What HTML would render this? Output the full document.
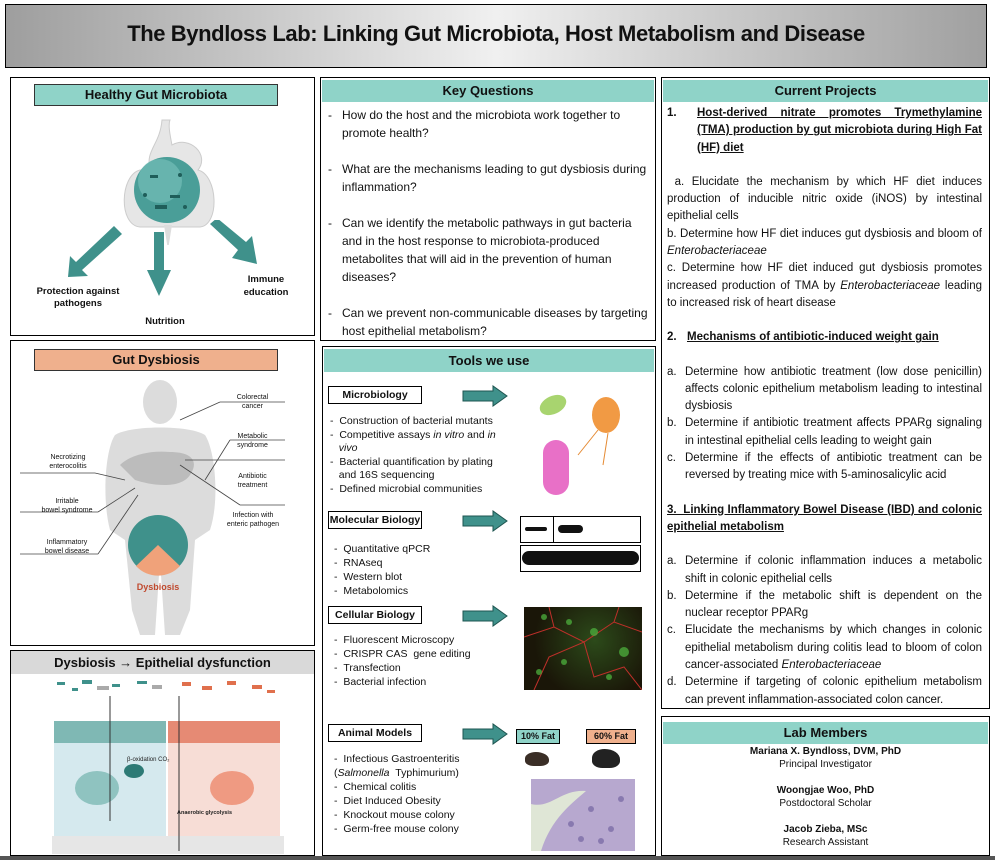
<!DOCTYPE html>
<html><head><meta charset="utf-8">
<style>
*{margin:0;padding:0;box-sizing:border-box}
body{width:995px;height:860px;background:#fff;position:relative;overflow:hidden;font-family:"Liberation Sans",sans-serif;color:#111}
.a{position:absolute}
.box{position:absolute;border:1.5px solid #000;background:#fff}
.hd{position:absolute;background:#8fd3c8;font-weight:bold;text-align:center;font-size:13px}
.lab{position:absolute;border:1.3px solid #000;background:#fff;font-weight:bold;font-size:10.5px;text-align:center;white-space:nowrap}
.t{font-size:10.5px;line-height:13.5px}
.arr{position:absolute;width:46px;height:22px}
.q{font-size:12px;line-height:18px}
.j{text-align:justify}
.sm{font-size:7px;position:absolute;text-align:center;line-height:9px}
</style></head><body>

<div class="a" style="left:5px;top:4px;width:982px;height:64px;border:1.5px solid #000;background:linear-gradient(to right,#9e9e9e 0%,#cfcfcf 30%,#f0f0f0 50%,#cfcfcf 70%,#a0a0a0 100%)"></div>
<div class="a" style="left:5px;top:21px;width:982px;text-align:center;font-size:22px;font-weight:bold;letter-spacing:-0.4px">The Byndloss Lab: Linking Gut Microbiota, Host Metabolism and Disease</div>

<!-- Panel 1 -->
<div class="box" style="left:10px;top:77px;width:305px;height:259px"></div>
<div class="hd" style="left:34px;top:84px;width:244px;height:22px;line-height:20px;border:1px solid #333">Healthy Gut Microbiota</div>
<svg class="a" style="left:100px;top:115px" width="130" height="130">
<path d="M62 5 C60 30 45 35 50 55 L40 55 C20 60 18 110 40 112 L100 112 C120 110 118 60 98 55 C110 40 90 20 72 30 C70 20 68 10 70 5Z" fill="#e6e6e6" stroke="#ccc"/>
<path d="M64 110 L68 135 L72 110Z" fill="#ddd"/>
<circle cx="67" cy="75" r="33" fill="#4a9e98"/>
<circle cx="60" cy="66" r="22" fill="#7cc3bd" opacity=".6"/>
<g fill="#1f5e5a"><rect x="50" y="60" width="8" height="3"/><rect x="70" y="80" width="10" height="3"/><rect x="55" y="90" width="12" height="4"/><circle cx="80" cy="60" r="2"/><circle cx="45" cy="80" r="2"/><circle cx="85" cy="92" r="2"/></g>
</svg>
<svg class="a" style="left:60px;top:220px" width="220" height="85">
<g fill="#3f918b">
<polygon points="54,6 62,14 22,50 28,56 8,57 10,36 16,42"/>
<polygon points="94,12 104,12 104,50 111,50 99,76 87,50 94,50"/>
<polygon points="150,4 157,-2 186,22 192,16 197,44 172,38 178,30"/>
</g></svg>
<div class="a" style="left:18px;top:286px;width:120px;text-align:center;font-size:9.5px;font-weight:bold;line-height:12px">Protection against<br>pathogens</div>
<div class="a" style="left:130px;top:316px;width:70px;text-align:center;font-size:9.5px;font-weight:bold">Nutrition</div>
<div class="a" style="left:236px;top:273px;width:60px;text-align:center;font-size:9.5px;font-weight:bold;line-height:13px">Immune<br>education</div>

<!-- Panel 2 -->
<div class="box" style="left:10px;top:340px;width:305px;height:306px"></div>
<div class="hd" style="left:34px;top:349px;width:244px;height:22px;line-height:20px;border:1px solid #333;background:#efb08d">Gut Dysbiosis</div>
<svg class="a" style="left:20px;top:380px" width="290" height="262">
<g fill="#dcdcdc">
<ellipse cx="140" cy="22" rx="17" ry="22"/>
<path d="M95 55 C110 45 170 45 185 55 C195 70 200 120 190 150 L175 160 L170 230 L160 255 L145 255 L140 180 L135 255 L120 255 L112 230 L105 160 L90 150 C82 120 85 70 95 55Z"/>
</g>
<path d="M100 85 C110 75 130 70 150 72 C170 72 180 80 170 95 C160 110 130 105 115 100Z" fill="#bcbcbc"/>
<circle cx="138" cy="165" r="30" fill="#3f918b"/>
<path d="M138 165 L116 186 A30 30 0 0 0 160 186Z" fill="#f0a27a"/>
<g stroke="#444" stroke-width=".8" fill="none">
<line x1="160" y1="40" x2="200" y2="22"/><line x1="200" y1="22" x2="265" y2="22"/>
<line x1="185" y1="100" x2="210" y2="60"/><line x1="210" y1="60" x2="265" y2="60"/>
<line x1="165" y1="80" x2="265" y2="80"/>
<line x1="160" y1="85" x2="220" y2="125"/><line x1="220" y1="125" x2="265" y2="125"/>
<line x1="0" y1="93" x2="75" y2="93"/><line x1="75" y1="93" x2="105" y2="100"/>
<line x1="0" y1="132" x2="78" y2="132"/><line x1="78" y1="132" x2="115" y2="108"/>
<line x1="0" y1="174" x2="78" y2="174"/><line x1="78" y1="174" x2="118" y2="115"/>
</g>
<text x="138" y="210" text-anchor="middle" font-size="9" font-weight="bold" fill="#c0492e" font-family="Liberation Sans">Dysbiosis</text>
</svg>
<div class="sm" style="left:225px;top:393px;width:55px">Colorectal<br>cancer</div>
<div class="sm" style="left:225px;top:432px;width:55px">Metabolic<br>syndrome</div>
<div class="sm" style="left:225px;top:472px;width:55px">Antibiotic<br>treatment</div>
<div class="sm" style="left:222px;top:511px;width:62px">Infection with<br>enteric pathogen</div>
<div class="sm" style="left:38px;top:453px;width:60px">Necrotizing<br>enterocolitis</div>
<div class="sm" style="left:36px;top:497px;width:62px">Irritable<br>bowel syndrome</div>
<div class="sm" style="left:36px;top:538px;width:62px">Inflammatory<br>bowel disease</div>

<!-- Panel 3 -->
<div class="box" style="left:10px;top:650px;width:305px;height:206px"></div>
<div class="a" style="left:11px;top:651px;width:303px;height:23px;background:#d9d9d9;font-weight:bold;font-size:13px;text-align:center;line-height:23px">Dysbiosis → Epithelial dysfunction</div>
<svg class="a" style="left:52px;top:676px" width="232" height="178">
<g fill="#3f918b"><rect x="5" y="6" width="8" height="3"/><rect x="30" y="4" width="10" height="4"/><rect x="60" y="8" width="8" height="3"/><rect x="85" y="5" width="10" height="3"/><rect x="20" y="12" width="6" height="3"/></g>
<g fill="#aaa"><rect x="45" y="10" width="12" height="4"/><rect x="100" y="9" width="10" height="4"/></g>
<g fill="#e0704d"><rect x="130" y="6" width="9" height="4"/><rect x="150" y="10" width="10" height="4"/><rect x="175" y="5" width="9" height="4"/><rect x="200" y="9" width="10" height="4"/><rect x="215" y="14" width="8" height="3"/></g>
<rect x="2" y="45" width="112" height="118" fill="#d5e9ee"/>
<rect x="116" y="45" width="112" height="118" fill="#f7ddd6"/>
<rect x="2" y="45" width="112" height="22" fill="#7fb8b4"/>
<rect x="116" y="45" width="112" height="22" fill="#e68a74"/>
<ellipse cx="45" cy="112" rx="22" ry="17" fill="#8fc3c0"/>
<ellipse cx="180" cy="112" rx="22" ry="17" fill="#ef9a82"/>
<ellipse cx="82" cy="95" rx="10" ry="7" fill="#2d7a75"/>
<rect x="0" y="160" width="232" height="18" fill="#e6e6e6"/>
<line x1="58" y1="20" x2="58" y2="145" stroke="#333"/>
<line x1="127" y1="20" x2="127" y2="175" stroke="#333"/>
<text x="75" y="85" font-size="6" font-family="Liberation Sans" fill="#222">β-oxidation CO₂</text>
<text x="125" y="138" font-size="5.5" font-weight="bold" font-family="Liberation Sans" fill="#222">Anaerobic glycolysis</text>
</svg>

<!-- Key Questions -->
<div class="box" style="left:320px;top:77px;width:336px;height:264px"></div>
<div class="hd" style="left:322px;top:80px;width:332px;height:22px;line-height:22px">Key Questions</div>
<div class="a q" style="left:328px;top:106px;width:322px">
<div style="display:flex"><span style="width:14px">-</span><span style="flex:1">How do the host and the microbiota work together to promote health?</span></div>
<div style="display:flex;margin-top:18px"><span style="width:14px">-</span><span style="flex:1">What are the mechanisms leading to gut dysbiosis during inflammation?</span></div>
<div style="display:flex;margin-top:18px"><span style="width:14px">-</span><span style="flex:1">Can we identify the metabolic pathways in gut bacteria and in the host response to microbiota-produced metabolites that will aid in the prevention of human diseases?</span></div>
<div style="display:flex;margin-top:18px"><span style="width:14px">-</span><span style="flex:1">Can we prevent non-communicable diseases by targeting host epithelial metabolism?</span></div>
</div>

<!-- Tools -->
<div class="box" style="left:322px;top:346px;width:334px;height:510px"></div>
<div class="hd" style="left:324px;top:349px;width:330px;height:23px;line-height:23px">Tools we use</div>
<svg width="0" height="0" style="position:absolute"><defs><symbol id="ar" viewBox="0 0 46 22"><polygon points="1,6 31,6 31,1 45,11 31,21 31,16 1,16" fill="#3f918b" stroke="#1e5550" stroke-width="1"/></symbol></defs></svg>
<div class="lab" style="left:328px;top:386px;width:94px;height:18px;line-height:16px">Microbiology</div>
<svg class="arr" style="left:462px;top:385px"><use href="#ar"/></svg>
<div class="a t" style="left:330px;top:415px;width:180px">
- &nbsp;Construction of bacterial mutants<br>- &nbsp;Competitive assays <i>in vitro</i> and <i>in</i><br>&nbsp;&nbsp;&nbsp;<i>vivo</i><br>- &nbsp;Bacterial quantification by plating<br>&nbsp;&nbsp;&nbsp;and 16S sequencing<br>- &nbsp;Defined microbial communities</div>
<svg class="a" style="left:528px;top:385px" width="110" height="115">
<ellipse cx="25" cy="20" rx="14" ry="9" fill="#a8d46f" transform="rotate(-25 25 20)"/>
<ellipse cx="78" cy="30" rx="14" ry="18" fill="#f19a44"/>
<rect x="15" y="55" width="26" height="55" rx="13" fill="#e870c7"/>
<g stroke="#e58a33" fill="none"><path d="M70 45 L50 70"/><path d="M80 48 L75 80"/></g>
</svg>
<div class="lab" style="left:328px;top:511px;width:94px;height:18px;line-height:16px">Molecular Biology</div>
<svg class="arr" style="left:462px;top:510px"><use href="#ar"/></svg>
<div class="a" style="left:520px;top:516px;width:121px;height:27px;border:1px solid #000"><div class="a" style="left:32px;top:0;width:1px;height:25px;background:#000"></div><div class="a" style="left:4px;top:10px;width:22px;height:4px;background:#111;border-radius:3px"></div><div class="a" style="left:37px;top:8px;width:25px;height:8px;background:#111;border-radius:4px"></div></div>
<div class="a" style="left:520px;top:545px;width:121px;height:27px;border:1px solid #000"><div class="a" style="left:1px;top:5px;width:117px;height:14px;background:#111;border-radius:7px"></div></div>
<div class="a t" style="left:334px;top:542px;width:180px;line-height:14px">- &nbsp;Quantitative qPCR<br>- &nbsp;RNAseq<br>- &nbsp;Western blot<br>- &nbsp;Metabolomics</div>
<div class="lab" style="left:328px;top:606px;width:94px;height:18px;line-height:16px">Cellular Biology</div>
<svg class="arr" style="left:462px;top:605px"><use href="#ar"/></svg>
<div class="a" style="left:524px;top:607px;width:118px;height:83px;background:radial-gradient(circle at 60% 40%,#2c4a1a,#1a1608 70%)"></div>
<svg class="a" style="left:524px;top:607px" width="118" height="83"><g stroke="#c0302a" fill="none" stroke-width="1"><path d="M0 30 L30 20 L60 35 L90 15 L118 25"/><path d="M10 83 L25 50 L60 35 L70 70 L100 60 L118 83"/><path d="M30 20 L25 0"/><path d="M90 15 L95 0"/></g><g fill="#4aa83a" opacity=".8"><circle cx="20" cy="10" r="3"/><circle cx="45" cy="15" r="3"/><circle cx="70" cy="25" r="4"/><circle cx="100" cy="45" r="5"/><circle cx="40" cy="55" r="3"/><circle cx="85" cy="70" r="3"/><circle cx="15" cy="65" r="3"/></g></svg>
<div class="a t" style="left:334px;top:633px;width:180px;line-height:14px">- &nbsp;Fluorescent Microscopy<br>- &nbsp;CRISPR CAS &nbsp;gene editing<br>- &nbsp;Transfection<br>- &nbsp;Bacterial infection</div>
<div class="lab" style="left:328px;top:724px;width:94px;height:18px;line-height:16px">Animal Models</div>
<svg class="arr" style="left:462px;top:723px"><use href="#ar"/></svg>
<div class="a" style="left:516px;top:729px;width:44px;height:15px;background:#8fd3c8;border:1px solid #000;font-size:9px;font-weight:bold;text-align:center;line-height:13px">10% Fat</div>
<div class="a" style="left:586px;top:729px;width:50px;height:15px;background:#efb08d;border:1px solid #000;font-size:9px;font-weight:bold;text-align:center;line-height:13px">60% Fat</div>
<div class="a" style="left:525px;top:752px;width:24px;height:14px;background:#3a2e26;border-radius:50% 60% 40% 40%"></div>
<div class="a" style="left:592px;top:749px;width:28px;height:19px;background:#222;border-radius:50% 60% 40% 40%"></div>
<div class="a" style="left:531px;top:779px;width:104px;height:72px;background:#b7a8cf"></div>
<svg class="a" style="left:531px;top:779px" width="104" height="72"><path d="M0 25 C20 30 30 10 55 12 C40 25 20 40 10 72 L0 72Z" fill="#dfe6d6"/><g fill="#6a5a9a" opacity=".6"><circle cx="40" cy="45" r="3"/><circle cx="60" cy="30" r="3"/><circle cx="80" cy="50" r="3"/><circle cx="70" cy="62" r="3"/><circle cx="90" cy="20" r="3"/><circle cx="50" cy="60" r="3"/></g></svg>
<div class="a t" style="left:334px;top:752px;width:190px;line-height:14px">- &nbsp;Infectious Gastroenteritis<br>(<i>Salmonella</i> &nbsp;Typhimurium)<br>- &nbsp;Chemical colitis<br>- &nbsp;Diet Induced Obesity<br>- &nbsp;Knockout mouse colony<br>- &nbsp;Germ-free mouse colony</div>

<!-- Current Projects -->
<div class="box" style="left:661px;top:77px;width:329px;height:632px"></div>
<div class="hd" style="left:663px;top:80px;width:325px;height:22px;line-height:22px">Current Projects</div>
<div class="a j" style="left:667px;top:105px;width:315px;font-size:11.5px;line-height:17.3px">
<div style="display:flex;font-weight:bold"><span style="width:30px">1.</span><span style="flex:1;text-decoration:underline">Host-derived nitrate promotes Trymethylamine (TMA) production by gut microbiota during High Fat (HF) diet</span></div>
<div style="margin-top:17px">&nbsp;a. Elucidate the mechanism by which HF diet induces production of inducible nitric oxide (iNOS) by intestinal epithelial cells</div>
<div>b. Determine how HF diet induces gut dysbiosis and bloom of <i>Enterobacteriaceae</i></div>
<div>c. Determine how HF diet induced gut dysbiosis promotes increased production of TMA by <i>Enterobacteriaceae</i> leading to increased risk of heart disease</div>
<div style="margin-top:17px;font-weight:bold"><span style="display:inline-block;width:20px">2.</span><u>Mechanisms of antibiotic-induced weight gain</u></div>
<div style="margin-top:17px;display:flex"><span style="width:18px">a.</span><span style="flex:1">Determine how antibiotic treatment (low dose penicillin) affects colonic epithelium metabolism leading to intestinal dysbiosis</span></div>
<div style="display:flex"><span style="width:18px">b.</span><span style="flex:1">Determine if antibiotic treatment affects PPARg signaling in intestinal epithelial cells leading to weight gain</span></div>
<div style="display:flex"><span style="width:18px">c.</span><span style="flex:1">Determine if the effects of antibiotic treatment can be reversed by treating mice with 5-aminosalicylic acid</span></div>
<div style="margin-top:17px;font-weight:bold;text-decoration:underline">3. &nbsp;Linking Inflammatory Bowel Disease (IBD) and colonic epithelial metabolism</div>
<div style="margin-top:17px;display:flex"><span style="width:18px">a.</span><span style="flex:1">Determine if colonic inflammation induces a metabolic shift in colonic epithelial cells</span></div>
<div style="display:flex"><span style="width:18px">b.</span><span style="flex:1">Determine if the metabolic shift is dependent on the nuclear receptor PPARg</span></div>
<div style="display:flex"><span style="width:18px">c.</span><span style="flex:1">Elucidate the mechanisms by which changes in colonic epithelial metabolism during colitis lead to bloom of colon cancer-associated <i>Enterobacteriaceae</i></span></div>
<div style="display:flex"><span style="width:18px">d.</span><span style="flex:1">Determine if targeting of colonic epithelium metabolism can prevent inflammation-associated colon cancer.</span></div>
</div>

<!-- Lab Members -->
<div class="box" style="left:661px;top:716px;width:329px;height:140px"></div>
<div class="hd" style="left:663px;top:722px;width:325px;height:22px;line-height:22px">Lab Members</div>
<div class="a" style="left:663px;top:745px;width:325px;text-align:center;font-size:10px;line-height:13px">
<b>Mariana X. Byndloss, DVM, PhD</b><br>Principal Investigator<br><br><b>Woongjae Woo, PhD</b><br>Postdoctoral Scholar<br><br><b>Jacob Zieba, MSc</b><br>Research Assistant</div>

<div class="a" style="left:0;top:856px;width:995px;height:4px;background:#555"></div>
</body></html>
